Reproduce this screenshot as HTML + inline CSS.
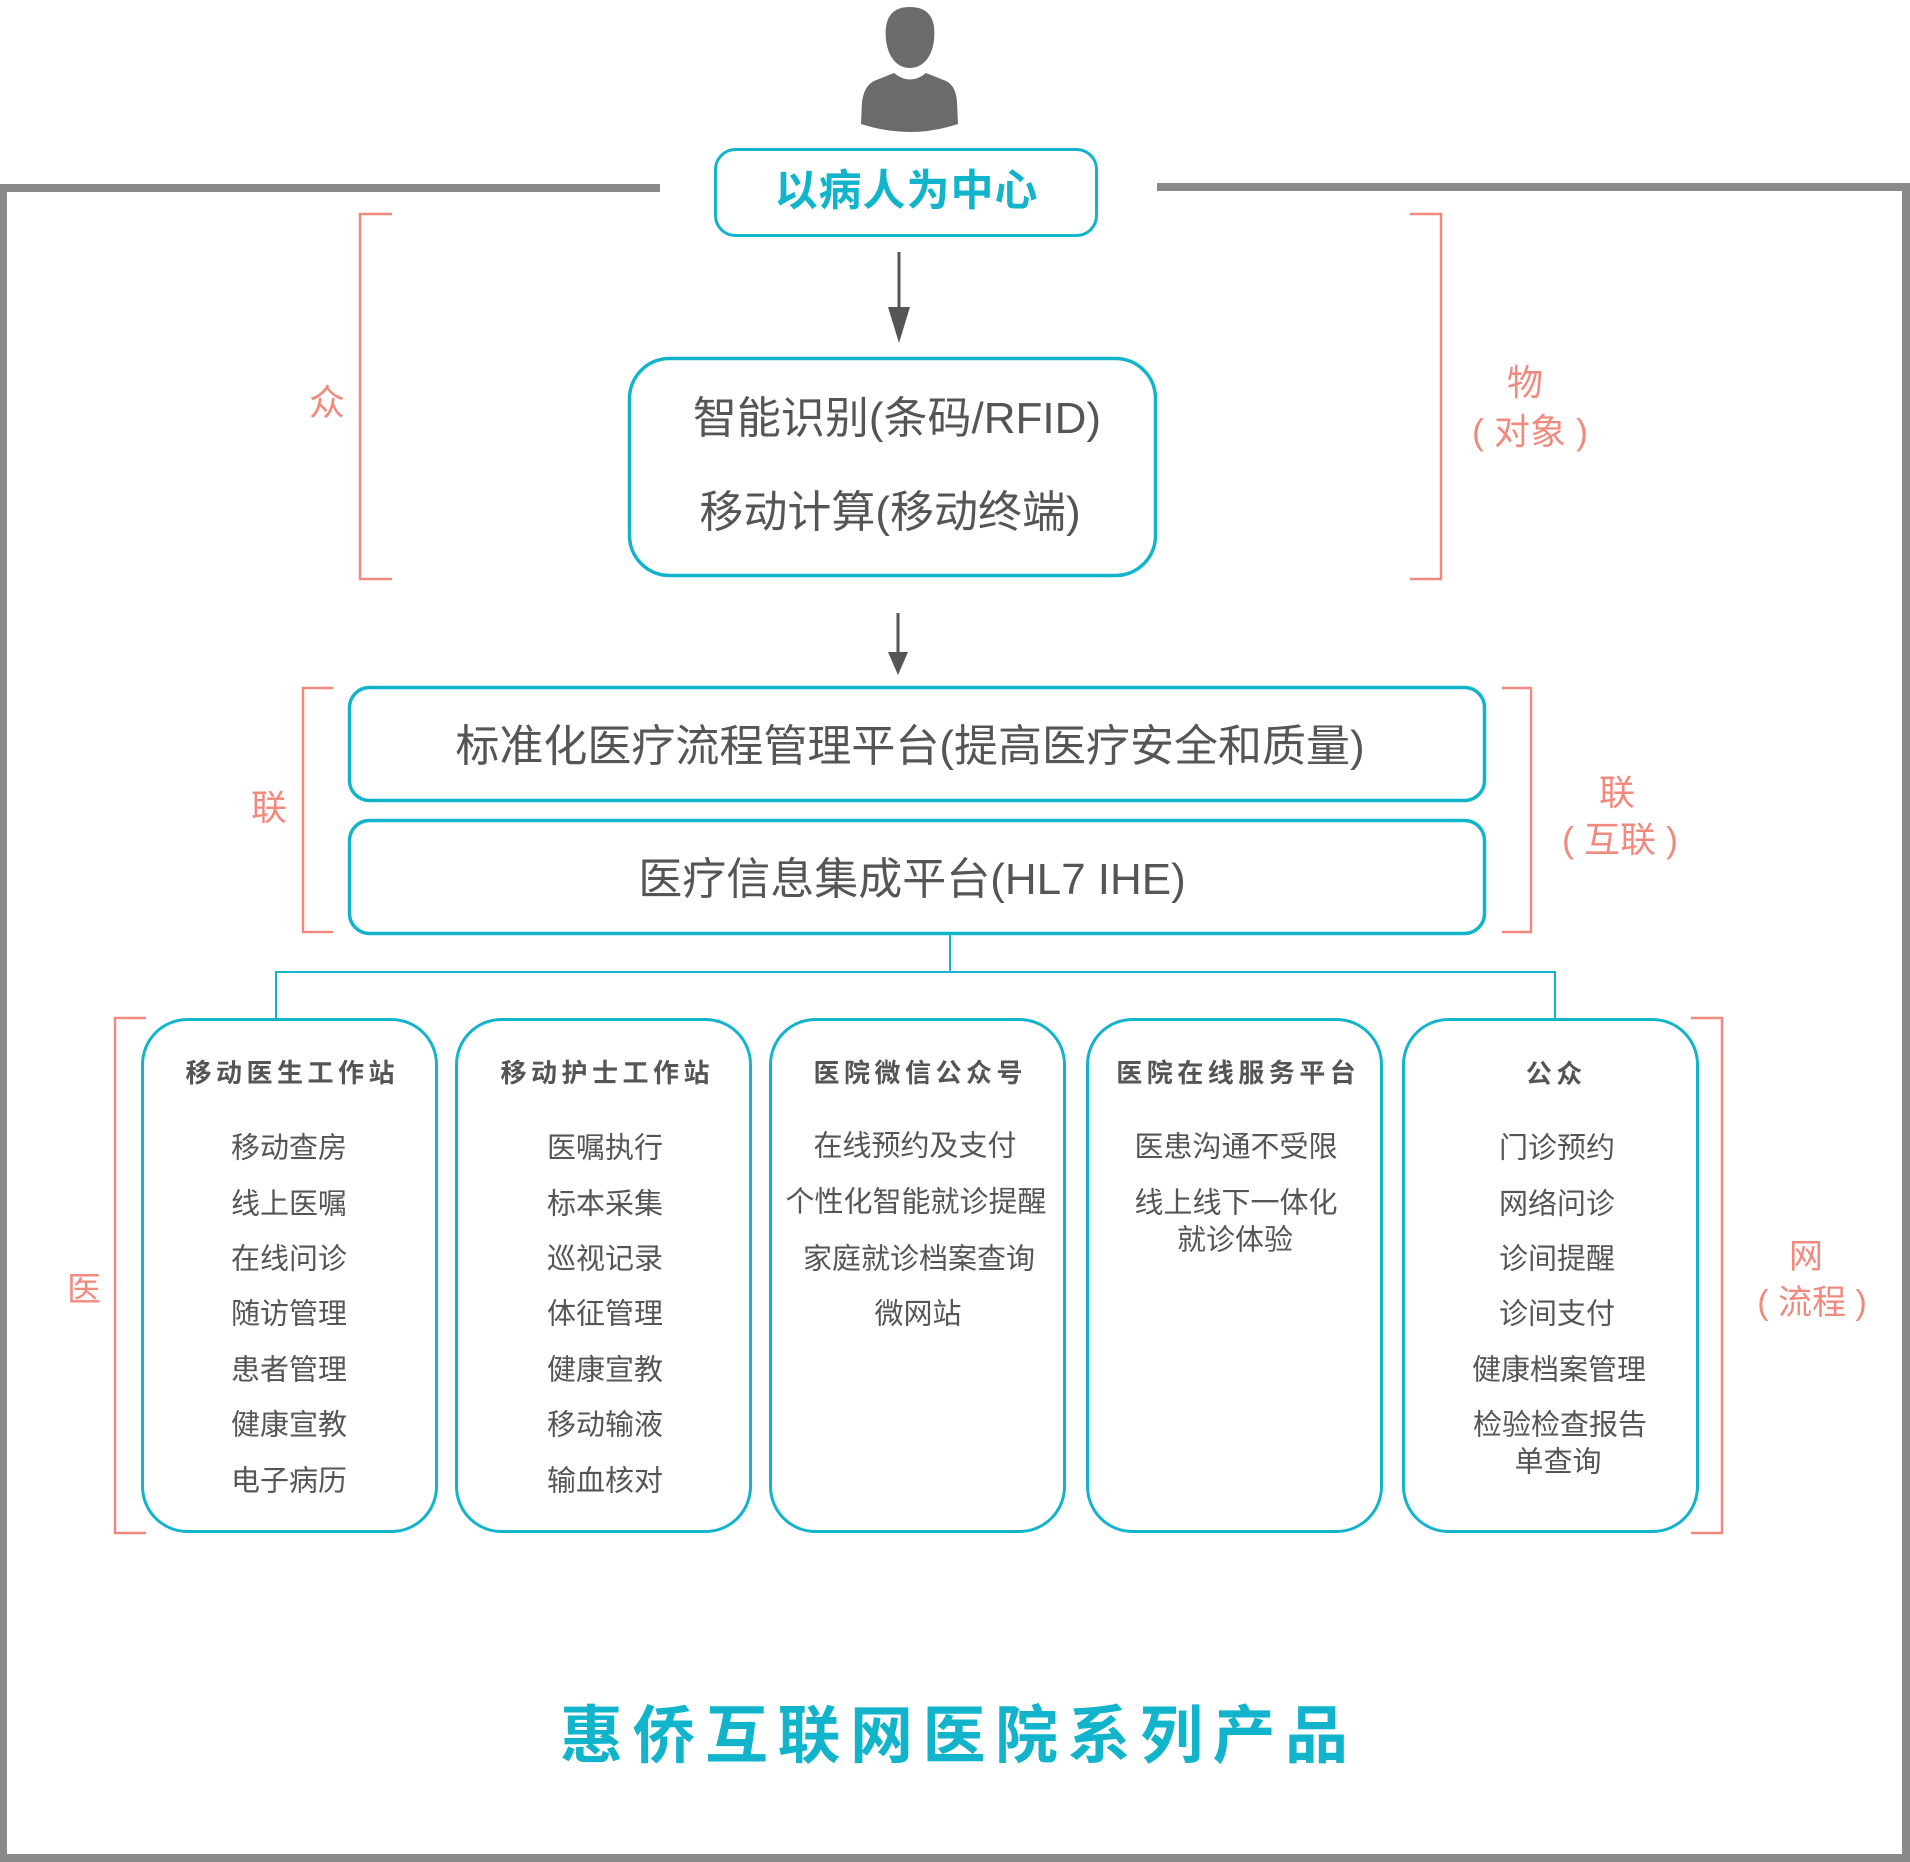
<!DOCTYPE html>
<html><head><meta charset="utf-8">
<style>
html,body{margin:0;padding:0;background:#fff;}
body{width:1910px;height:1862px;position:relative;overflow:hidden;font-family:"Liberation Sans","Noto Sans CJK SC",sans-serif;}
svg{position:absolute;left:0;top:0;}
.t{position:absolute;white-space:nowrap;transform:translate(-50%,-50%);line-height:1;color:#555;}
.s{color:#f08a7e;font-size:36px;}
.it{font-size:29px;}
.h{font-size:26px;font-weight:bold;letter-spacing:4.5px;padding-left:4.5px;color:#555;}
.big{font-size:44px;}
</style></head><body>
<svg width="1910" height="1862" viewBox="0 0 1910 1862">
  <!-- outer frame -->
  <g fill="#8a8a8a">
    <rect x="0" y="184" width="660" height="8"/>
    <rect x="1157" y="183" width="753" height="8"/>
    <rect x="0" y="184" width="7" height="1678"/>
    <rect x="1902" y="183" width="8" height="1679"/>
    <rect x="0" y="1854" width="1910" height="8"/>
  </g>
  <!-- person -->
  <g fill="#6b6b6b">
    <path d="M910,7 C930,7 936,20 934,40 C932,58 922,68 910,68 C898,68 888,58 886,40 C884,20 890,7 910,7 Z"/>
    <path d="M894,73 Q910,86 926,73 L946,81 Q956,86 957,102 L958,124 Q910,140 861,124 L862,102 Q864,86 874,81 Z"/>
  </g>
  <!-- top box -->
  <rect x="715.5" y="149.5" width="381" height="86" rx="20" fill="none" stroke="#12b4cb" stroke-width="3"/>
  <!-- arrow 1 -->
  <line x1="899" y1="252" x2="899" y2="310" stroke="#555" stroke-width="3"/>
  <polygon points="888,307 910,307 899,343" fill="#555"/>
  <!-- box 2 -->
  <rect x="629.5" y="358.5" width="526" height="217" rx="40" fill="none" stroke="#12b4cb" stroke-width="3.5"/>
  <!-- arrow 2 -->
  <line x1="898" y1="613" x2="898" y2="656" stroke="#555" stroke-width="3"/>
  <polygon points="888,652 908,652 898,675" fill="#555"/>
  <!-- box 3, 4 -->
  <rect x="349.5" y="687.5" width="1135" height="113" rx="20" fill="none" stroke="#12b4cb" stroke-width="3.5"/>
  <rect x="349.5" y="820.5" width="1135" height="113" rx="20" fill="none" stroke="#12b4cb" stroke-width="3.5"/>
  <!-- connectors -->
  <g stroke="#12b4cb" stroke-width="2" fill="none">
    <line x1="950" y1="934" x2="950" y2="972"/>
    <line x1="275" y1="972" x2="1556" y2="972"/>
    <line x1="276" y1="971" x2="276" y2="1019"/>
    <line x1="1555" y1="971" x2="1555" y2="1019"/>
  </g>
  <!-- column boxes -->
  <g fill="none" stroke="#12b4cb" stroke-width="3">
    <rect x="142.5" y="1019.5" width="294" height="512" rx="45"/>
    <rect x="456.5" y="1019.5" width="294" height="512" rx="45"/>
    <rect x="770.5" y="1019.5" width="294" height="512" rx="45"/>
    <rect x="1087.5" y="1019.5" width="294" height="512" rx="45"/>
    <rect x="1403.5" y="1019.5" width="294" height="512" rx="45"/>
  </g>
  <!-- brackets -->
  <g fill="none" stroke="#f08a7e" stroke-width="2.5">
    <polyline points="392,214 360,214 360,579 392,579"/>
    <polyline points="1410,214 1441,214 1441,579 1410,579"/>
    <polyline points="333,688 303,688 303,932 333,932"/>
    <polyline points="1502,688 1531,688 1531,932 1502,932"/>
    <polyline points="146,1018 115,1018 115,1533 146,1533"/>
    <polyline points="1691,1018 1722,1018 1722,1533 1691,1533"/>
  </g>
</svg>

<!-- top title -->
<div class="t" style="left:906px;top:192px;font-size:43px;font-weight:bold;color:#12b4cb;letter-spacing:1px;padding-left:1px;">以病人为中心</div>

<div class="t big" style="left:897px;top:419px;">智能识别(条码/RFID)</div>
<div class="t big" style="left:890px;top:513px;">移动计算(移动终端)</div>

<div class="t big" style="left:910px;top:747px;">标准化医疗流程管理平台(提高医疗安全和质量)</div>
<div class="t big" style="left:912px;top:880px;">医疗信息集成平台(HL7 IHE)</div>

<!-- side labels -->
<div class="t s" style="left:327px;top:403px;">众</div>
<div class="t s" style="left:1525px;top:383px;">物</div>
<div class="t s" style="left:1530px;top:432px;">( 对象 )</div>
<div class="t s" style="left:269px;top:808px;">联</div>
<div class="t s" style="left:1617px;top:793px;">联</div>
<div class="t s" style="left:1620px;top:840px;">( 互联 )</div>
<div class="t s" style="left:84px;top:1290px;font-size:34px;">医</div>
<div class="t s" style="left:1806px;top:1257px;font-size:34px;">网</div>
<div class="t s" style="left:1812px;top:1303px;font-size:34px;">( 流程 )</div>

<!-- column 1 -->
<div class="t h" style="left:290px;top:1073px;">移动医生工作站</div>
<div class="t it" style="left:289px;top:1149px;">移动查房</div>
<div class="t it" style="left:289px;top:1205px;">线上医嘱</div>
<div class="t it" style="left:289px;top:1260px;">在线问诊</div>
<div class="t it" style="left:289px;top:1315px;">随访管理</div>
<div class="t it" style="left:289px;top:1371px;">患者管理</div>
<div class="t it" style="left:289px;top:1426px;">健康宣教</div>
<div class="t it" style="left:289px;top:1482px;">电子病历</div>

<!-- column 2 -->
<div class="t h" style="left:605px;top:1073px;">移动护士工作站</div>
<div class="t it" style="left:605px;top:1149px;">医嘱执行</div>
<div class="t it" style="left:605px;top:1205px;">标本采集</div>
<div class="t it" style="left:605px;top:1260px;">巡视记录</div>
<div class="t it" style="left:605px;top:1315px;">体征管理</div>
<div class="t it" style="left:605px;top:1371px;">健康宣教</div>
<div class="t it" style="left:605px;top:1426px;">移动输液</div>
<div class="t it" style="left:605px;top:1482px;">输血核对</div>

<!-- column 3 -->
<div class="t h" style="left:918px;top:1073px;">医院微信公众号</div>
<div class="t it" style="left:915px;top:1147px;">在线预约及支付</div>
<div class="t it" style="left:916px;top:1203px;">个性化智能就诊提醒</div>
<div class="t it" style="left:919px;top:1260px;">家庭就诊档案查询</div>
<div class="t it" style="left:918px;top:1315px;">微网站</div>

<!-- column 4 -->
<div class="t h" style="left:1236px;top:1073px;">医院在线服务平台</div>
<div class="t it" style="left:1236px;top:1148px;">医患沟通不受限</div>
<div class="t it" style="left:1236px;top:1204px;">线上线下一体化</div>
<div class="t it" style="left:1235px;top:1241px;">就诊体验</div>

<!-- column 5 -->
<div class="t h" style="left:1554px;top:1074px;">公众</div>
<div class="t it" style="left:1557px;top:1149px;">门诊预约</div>
<div class="t it" style="left:1557px;top:1205px;">网络问诊</div>
<div class="t it" style="left:1557px;top:1260px;">诊间提醒</div>
<div class="t it" style="left:1557px;top:1315px;">诊间支付</div>
<div class="t it" style="left:1559px;top:1371px;">健康档案管理</div>
<div class="t it" style="left:1560px;top:1426px;">检验检查报告</div>
<div class="t it" style="left:1558px;top:1463px;">单查询</div>

<!-- footer -->
<div class="t" style="left:954px;top:1737px;font-size:63px;font-weight:bold;color:#12b4cb;letter-spacing:9.5px;padding-left:9.5px;">惠侨互联网医院系列产品</div>
</body></html>
